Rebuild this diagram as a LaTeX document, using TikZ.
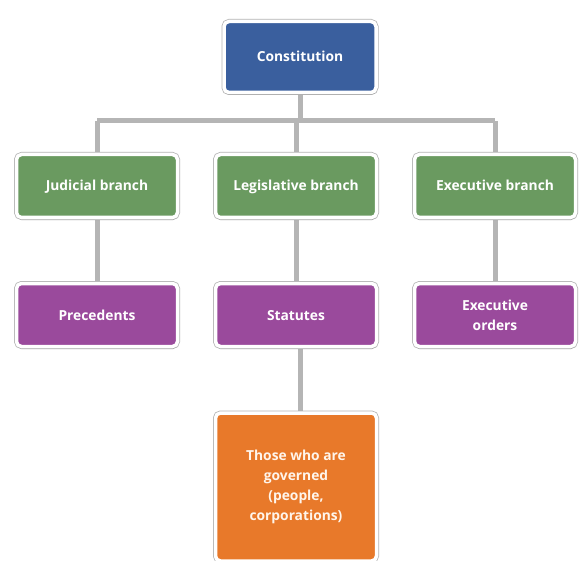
\documentclass[tikz,border=0pt]{standalone}
\usepackage{fontspec}
\setmainfont{Open Sans}
\usetikzlibrary{shadows}
\definecolor{cblue}{HTML}{3A5F9E}
\definecolor{cgreen}{HTML}{6A9A60}
\definecolor{cpurple}{HTML}{9A4A9C}
\definecolor{corange}{HTML}{E8792A}
\definecolor{cline}{HTML}{B5B5B5}
\tikzset{
  box/.style={rounded corners=5pt, draw=white, line width=3.5pt,
    minimum width=161pt, minimum height=63pt, align=center,
    text=white, font=\bfseries\fontsize{13.8}{20}\selectfont,
    preaction={draw=black!30, line width=5pt},
    drop shadow={opacity=0.25, shadow xshift=0.5pt, shadow yshift=-2.5pt}},
  oneline/.style={text height=11pt, text depth=1pt},
  link/.style={draw=cline, line width=5pt}
}
\begin{document}
\begin{tikzpicture}[x=1pt,y=-1pt]
\useasboundingbox (0,0) rectangle (580,561);
% connectors
\coordinate (bar) at (300,121);
\draw[link] (300,60) -- (bar);
\draw[link] (97,121) -- (495,121);
\draw[link] (97,121) -- (97,320);
\draw[link] (296,121) -- (296,320);
\draw[link] (495,121) -- (495,320);
\draw[link] (300,320) -- (300,450);
% nodes
\node[box, oneline, fill=cblue, minimum width=152pt, minimum height=71pt] (con) at (300,57) {Constitution};
\node[box, oneline, fill=cgreen] (jud) at (97,186) {Judicial branch};
\node[box, oneline, fill=cgreen] (leg) at (296,186) {Legislative branch};
\node[box, oneline, fill=cgreen] (exe) at (495,186) {Executive branch};
\node[box, oneline, fill=cpurple] (pre) at (97,315) {Precedents};
\node[box, oneline, fill=cpurple] (sta) at (296,315) {Statutes};
\node[box, fill=cpurple] (ord) at (495,315) {Executive\\orders};
\node[box, fill=corange, minimum height=148pt, text=orange!8] (gov) at (296,487) {Those who are\\governed\\(people,\\corporations)};
\end{tikzpicture}
\end{document}
